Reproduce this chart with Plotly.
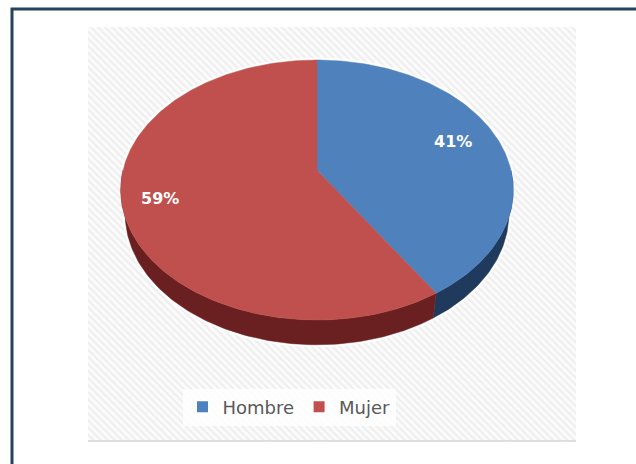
import numpy as np
import plotly.graph_objects as go

# Data
categories = ["Hombre", "Mujer"]
values = [41, 59]

# Styling
top_colors = ["#4f81bd", "#c0504d"]
side_colors = ["#1f3a5c", "#6a2020"]
label_xy = [(453, 141), (160, 198)]  # label anchors in page pixels
FONT = "DejaVu Sans, Verdana, sans-serif"

W, H = 636, 464

# 3-D view of the pie: tilt, camera distance, thickness (unit radius)
SIN_A = 0.655
COS_A = np.sqrt(1 - SIN_A ** 2)
DIST = 5.0
THICK = 0.17
# placement of the projected top face on the page
CX, TOP_Y, FACE_H = 317, 60, 260


def project(theta_deg, h=0.0):
    """Perspective projection of a rim point; theta clockwise from 12 o'clock."""
    t = np.radians(theta_deg)
    x, z = np.sin(t), np.cos(t)
    yv = h * COS_A + z * SIN_A
    dv = -h * SIN_A + z * COS_A
    k = DIST / (DIST + dv)
    return x * k, -yv * k


# scale so that the top face spans FACE_H pixels vertically
_, _yt = project(0.0)
_, _yb = project(180.0)
SCALE = FACE_H / (_yb - _yt)
OY = TOP_Y - _yt * SCALE


def to_px(theta_deg, h=0.0):
    u, v = project(theta_deg, h)
    return CX + u * SCALE, OY + v * SCALE


def arc(a0, a1, h=0.0):
    th = np.linspace(a0, a1, max(int(abs(a1 - a0)) + 2, 8))
    xs, ys = to_px(th, h)
    return list(xs), list(ys)


centre = (CX, OY)

fig = go.Figure()

# hatched plot-area background
fig.add_trace(go.Scatter(
    x=[88, 576, 576, 88, 88], y=[27, 27, 441, 441, 27],
    mode="lines", fill="toself", line=dict(width=0),
    fillcolor="#fafafa",
    fillpattern=dict(shape="\\", fgcolor="#e0e0e0", bgcolor="#fbfbfb",
                     size=5, solidity=0.4),
    hoverinfo="skip", showlegend=False,
))

total = float(sum(values))
bounds = np.concatenate([[0.0], np.cumsum(values) / total * 360.0])

# soft light halo around the pie outline
hx, hy = arc(-90, 90)
bx, by = arc(90, 270, -THICK)
fig.add_trace(go.Scatter(
    x=hx + bx + [hx[0]], y=hy + by + [hy[0]],
    mode="lines", line=dict(color="rgba(255,255,255,0.9)", width=5),
    hoverinfo="skip", showlegend=False,
))

# front side walls of each slice (visible between 90 and 270 degrees)
for i, name in enumerate(categories):
    a0, a1 = bounds[i], bounds[i + 1]
    s0, s1 = max(a0, 90.0), min(a1, 270.0)
    if s1 <= s0:
        continue
    tx, ty = arc(s0, s1)
    lx, ly = arc(s1, s0, -THICK)
    fig.add_trace(go.Scatter(
        x=tx + lx + [tx[0]], y=ty + ly + [ty[0]],
        mode="lines", fill="toself", fillcolor=side_colors[i],
        line=dict(color=side_colors[i], width=0.5),
        hoverinfo="skip", showlegend=False,
    ))

# top faces
for i, name in enumerate(categories):
    a0, a1 = bounds[i], bounds[i + 1]
    ax_, ay_ = arc(a0, a1)
    fig.add_trace(go.Scatter(
        x=[centre[0]] + ax_ + [centre[0]], y=[centre[1]] + ay_ + [centre[1]],
        mode="lines", fill="toself", fillcolor=top_colors[i],
        line=dict(color=top_colors[i], width=0.5),
        name=name, hoverinfo="name", showlegend=False,
    ))

# percentage labels
for i, v in enumerate(values):
    pct = round(v / total * 100)
    fig.add_annotation(
        x=label_xy[i][0], y=label_xy[i][1], xref="x", yref="y",
        text=f"<b>{pct}%</b>", showarrow=False,
        font=dict(family=FONT, size=16, color="white"),
    )

# legend entries
for i, name in enumerate(categories):
    fig.add_trace(go.Scatter(
        x=[None], y=[None], mode="markers", name=name,
        marker=dict(symbol="square", size=11, color=top_colors[i]),
    ))

# outer frame
fig.add_shape(type="rect", xref="x", yref="y", x0=12, y0=9, x1=W + 10, y1=H + 10,
              line=dict(color="#27425d", width=3), fillcolor="rgba(0,0,0,0)", layer="above")
# bottom edge line of plot area
fig.add_shape(type="line", xref="x", yref="y", x0=88, y0=441, x1=576, y1=441,
              line=dict(color="#d6d6d6", width=1.5))

fig.update_layout(
    width=W, height=H,
    margin=dict(l=0, r=0, t=0, b=0),
    paper_bgcolor="white", plot_bgcolor="white",
    xaxis=dict(range=[0, W], visible=False, fixedrange=True),
    yaxis=dict(range=[H, 0], visible=False, fixedrange=True),
    showlegend=True,
    legend=dict(
        orientation="h", x=289 / W, xanchor="center", y=1 - 407 / H, yanchor="middle",
        bgcolor="rgba(255,255,255,0.8)", itemwidth=30, tracegroupgap=0,
        font=dict(family=FONT, size=18, color="#595959"),
        itemclick=False, itemdoubleclick=False,
    ),
)

fig.write_html("out.html")
